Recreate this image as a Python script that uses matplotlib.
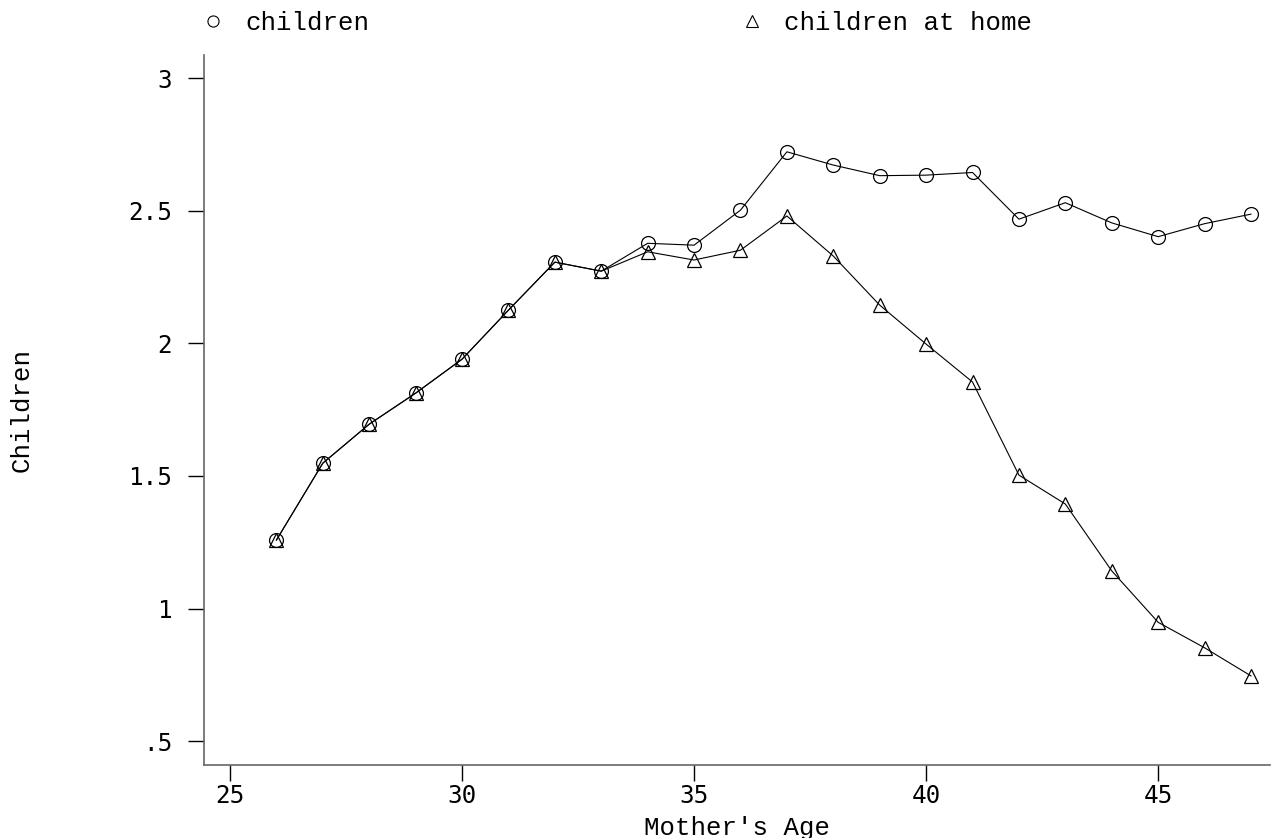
import matplotlib as mpl
mpl.use('Agg')
import matplotlib.pyplot as plt
from matplotlib.lines import Line2D

# mother's age and mean number of children
ages = [26, 27, 28, 29, 30, 31, 32, 33, 34, 35, 36, 37, 38, 39, 40, 41, 42, 43, 44, 45, 46, 47]
children = [1.258, 1.548, 1.695, 1.812, 1.940, 2.125, 2.306, 2.272, 2.377, 2.370, 2.502,
            2.722, 2.672, 2.632, 2.634, 2.644, 2.468, 2.530, 2.454, 2.402, 2.451, 2.487]
at_home = [1.258, 1.548, 1.695, 1.812, 1.940, 2.125, 2.306, 2.272, 2.345, 2.314, 2.351,
           2.480, 2.329, 2.144, 1.997, 1.854, 1.503, 1.394, 1.142, 0.948, 0.852, 0.746]
xticks = [25, 30, 35, 40, 45]
yticks = [0.5, 1, 1.5, 2, 2.5, 3]
ylabels = ['.5', '1', '1.5', '2', '2.5', '3']

W, H = 1273, 838
fig = plt.figure(figsize=(W / 100, H / 100), dpi=100)
ax = fig.add_axes([204 / W, 1 - 765 / H, 1066 / W, 710 / H])

ax.plot(ages, children, color='black', lw=0.8, marker='o', ms=10, mfc='none', mec='black', mew=0.9)
ax.plot(ages, at_home, color='black', lw=0.8, marker='^', ms=10, mfc='none', mec='black', mew=0.9)

ax.set_xlim(24.44, 47.41)
ax.set_ylim(0.41, 3.087)
ax.set_xticks(xticks)
ax.set_yticks(yticks)
ax.set_yticklabels(ylabels)

for s in ['top', 'right']:
	ax.spines[s].set_visible(False)
for s in ['left', 'bottom']:
	ax.spines[s].set_color('#666666')
	ax.spines[s].set_linewidth(1.2)

ax.tick_params(axis='both', direction='out', length=11.5, width=1, color='black', labelsize=17.5)
ax.tick_params(axis='x', pad=2)
ax.tick_params(axis='y', pad=11.5)
for lab in ax.get_xticklabels() + ax.get_yticklabels():
	lab.set_family('DejaVu Sans Mono')

mono = 'Liberation Mono'
fig.text(737 / W, 3.5 / H, "Mother's Age", family=mono, fontsize=18.5, ha='center', va='baseline')
fig.text(22 / W, 1 - 410 / H, 'Children', family=mono, fontsize=18.5, rotation=90, ha='center', va='center')

handles = [Line2D([], [], ls='none', marker='o', ms=8, mfc='none', mec='black', mew=0.8),
           Line2D([], [], ls='none', marker='^', ms=8, mfc='none', mec='black', mew=0.8)]
fig.legend(handles, ['children', 'children at home'], loc='center left',
           bbox_to_anchor=(200 / W, 1 - 23 / H), ncol=2, frameon=False, borderpad=0,
           borderaxespad=0, handlelength=1, handletextpad=0.75, columnspacing=14.4,
           prop={'family': mono, 'size': 18.5})

fig.savefig('out.png', dpi=100)
